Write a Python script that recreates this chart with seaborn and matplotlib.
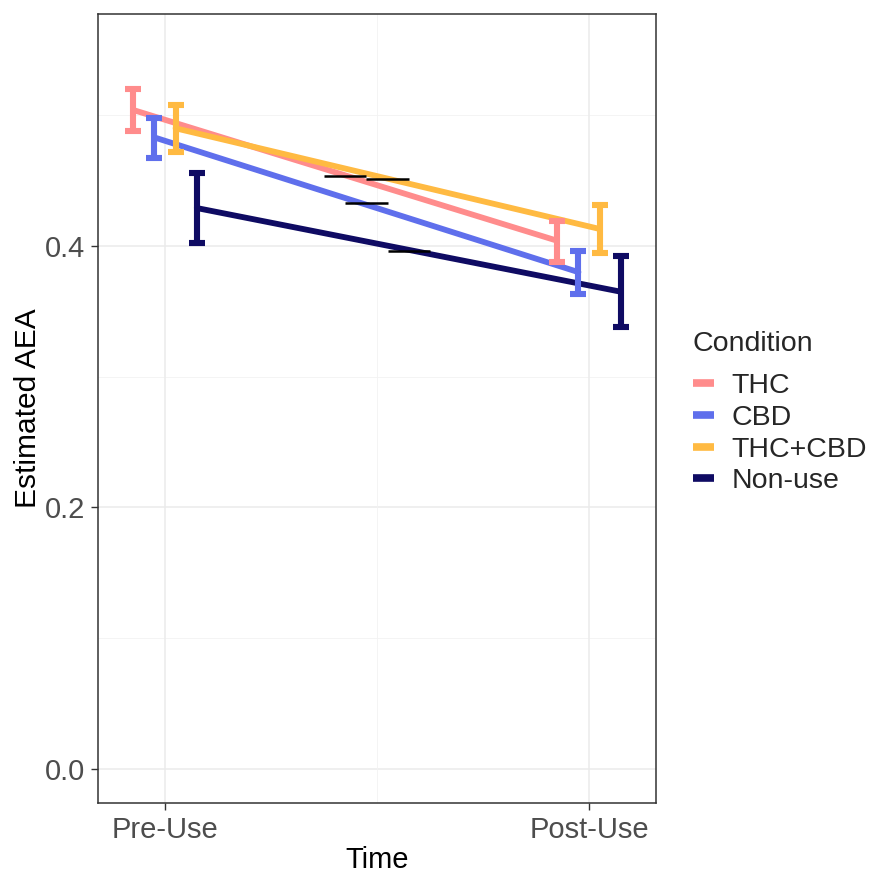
import matplotlib
matplotlib.use("Agg")
import matplotlib.pyplot as plt
import seaborn as sns
import pandas as pd
import numpy as np

conditions = ["THC", "CBD", "THC+CBD", "Non-use"]
times = ["Pre-Use", "Post-Use"]
pre_est = [0.504, 0.483, 0.490, 0.429]
pre_lo = [0.488, 0.467, 0.472, 0.402]
pre_hi = [0.520, 0.498, 0.508, 0.456]
post_est = [0.404, 0.380, 0.413, 0.365]
post_lo = [0.388, 0.363, 0.395, 0.338]
post_hi = [0.419, 0.396, 0.431, 0.392]
mid_values = [0.4537, 0.4327, 0.4512, 0.3964]
colors = ["#FF8C8C", "#5F6FEC", "#FFBA42", "#0F0B63"]

dodge = [-0.075, -0.025, 0.025, 0.075]

rows = []
for i, c in enumerate(conditions):
    rows.append({"Condition": c, "x": 1 + dodge[i], "est": pre_est[i], "lo": pre_lo[i], "hi": pre_hi[i]})
    rows.append({"Condition": c, "x": 2 + dodge[i], "est": post_est[i], "lo": post_lo[i], "hi": post_hi[i]})
df = pd.DataFrame(rows)

sns.set_theme(style="white")
plt.rcParams['font.family'] = ['Liberation Sans', 'DejaVu Sans']

fig = plt.figure(figsize=(8.69, 8.74), dpi=100)
ax = fig.add_axes([98/869, (874-803)/874, (656-98)/869, (803-14)/874])

# grid
for y in [0.0, 0.2, 0.4]:
    ax.axhline(y, color="#EBEBEB", lw=1.1, zorder=0)
for y in [0.1, 0.3, 0.5]:
    ax.axhline(y, color="#F2F2F2", lw=0.6, zorder=0)
for x in [1, 2]:
    ax.axvline(x, color="#EBEBEB", lw=1.1, zorder=0)
ax.axvline(1.5, color="#F2F2F2", lw=0.6, zorder=0)

pal = dict(zip(conditions, colors))
sns.lineplot(data=df, x="x", y="est", hue="Condition", hue_order=conditions,
             palette=pal, lw=4.2, ax=ax, legend=True, sort=True, zorder=2,
             errorbar=None)

for i, c in enumerate(conditions):
    sub = df[df.Condition == c]
    ax.errorbar(sub["x"], sub["est"], yerr=[sub["est"] - sub["lo"], sub["hi"] - sub["est"]],
                fmt="none", ecolor=colors[i], elinewidth=4.4, capsize=6, capthick=4.4, zorder=3)

for i in range(4):
    xc = 1.5 + dodge[i]
    ax.hlines(mid_values[i], xc - 0.05, xc + 0.05, color="black", lw=1.8, zorder=4)

ax.set_xlim(0.842, 2.158)
ax.set_ylim(-0.026, 0.5774)
ax.set_xticks([1, 2])
ax.set_xticklabels(times)
ax.set_yticks([0.0, 0.2, 0.4])
ax.set_yticklabels(["0.0", "0.2", "0.4"])
ax.tick_params(axis="both", labelsize=21, labelcolor="#4D4D4D", length=5, width=1, color="#333333",
               bottom=True, left=True, pad=4)
ax.set_xlabel("Time", fontsize=21, color="black", labelpad=2)
ax.set_ylabel("Estimated AEA", fontsize=21.5, color="black", labelpad=2)
for s in ax.spines.values():
    s.set_color("#333333")
    s.set_linewidth(1.1)

leg = ax.legend(title="Condition", loc="center left", bbox_to_anchor=(1.02, 0.495),
                frameon=False, fontsize=20.5, title_fontsize=20.5, handlelength=0.75,
                handletextpad=0.6, alignment="left", labelspacing=0.2)
leg._legend_box.sep = 12
for h in leg.get_lines():
    h.set_linewidth(5.5)
    h.set_solid_capstyle("butt")

fig.savefig("out.png", dpi=100)
